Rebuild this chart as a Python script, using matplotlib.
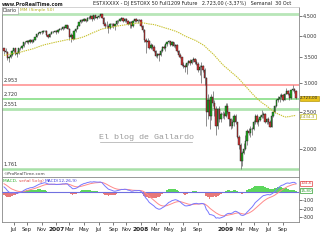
import numpy as np
import pandas as pd
import matplotlib
matplotlib.use('Agg')
import matplotlib.pyplot as plt
from matplotlib.ticker import FixedLocator, NullLocator, FixedFormatter
import matplotlib.transforms as mtransforms

# ---------------- data ----------------
# weekly closes before the visible window (Jun 2005 - May 2006), used only for indicator warm-up
prehistory_close = [3150, 3200, 3170, 3200, 3220, 3280, 3300, 3330, 3320, 3340, 3300, 3290, 3300, 3350, 3400,
                    3380, 3430, 3390, 3330, 3260, 3290, 3380, 3440, 3470, 3500, 3530, 3560, 3580, 3590, 3580,
                    3680, 3700, 3660, 3720, 3740, 3760, 3800, 3830, 3840, 3810, 3870, 3860, 3850, 3900, 3860,
                    3880, 3840, 3900, 3800, 3650]

first_open = 3700
close_2006 = [3650, 3620, 3480, 3500, 3560, 3650, 3700, 3580, 3600, 3700, 3720, 3750, 3850, 3840, 3880, 3840,
              3900, 3850, 3900, 3970, 4030, 4060, 4080, 4080, 4110, 4120, 4020, 3980, 4050, 4100, 4090, 4120]
high_2006 = [3720, 3700, 3640, 3540, 3600, 3670, 3720, 3710, 3640, 3710, 3740, 3770, 3860, 3870, 3900, 3900,
             3920, 3920, 3910, 3980, 4040, 4080, 4100, 4110, 4130, 4150, 4130, 4040, 4070, 4120, 4120, 4130]
low_2006 = [3580, 3590, 3450, 3400, 3480, 3540, 3630, 3560, 3520, 3580, 3660, 3690, 3740, 3810, 3820, 3810,
            3830, 3830, 3840, 3890, 3960, 4010, 4040, 4040, 4060, 4090, 4000, 3940, 3970, 4040, 4070, 4080]

close_2007 = [4080, 4150, 4180, 4160, 4230, 4200, 4260, 4180, 3960, 4020, 3920, 4120, 4170,
              4250, 4350, 4400, 4390, 4420, 4390, 4470, 4450, 4500, 4420, 4530, 4470, 4490,
              4520, 4560, 4470, 4290, 4250, 4250, 4200, 4300, 4290, 4250, 4290, 4380, 4380,
              4430, 4460, 4380, 4440, 4380, 4300, 4360, 4250, 4380, 4430, 4370, 4400, 4400]
high_2007 = [4140, 4160, 4200, 4200, 4240, 4250, 4280, 4270, 4200, 4060, 4050, 4130, 4190,
             4260, 4360, 4420, 4430, 4450, 4440, 4490, 4500, 4530, 4520, 4540, 4550, 4510,
             4540, 4575, 4570, 4490, 4340, 4380, 4280, 4320, 4330, 4330, 4300, 4400, 4400,
             4450, 4480, 4470, 4460, 4450, 4400, 4370, 4370, 4400, 4440, 4450, 4420, 4420]
low_2007 = [4050, 4070, 4130, 4130, 4150, 4180, 4190, 4160, 3900, 3850, 3900, 3910, 4100,
            4160, 4240, 4330, 4350, 4370, 4360, 4380, 4420, 4430, 4380, 4410, 4450, 4420,
            4470, 4500, 4450, 4270, 4200, 4200, 4060, 4180, 4220, 4200, 4150, 4270, 4330,
            4370, 4410, 4340, 4350, 4360, 4260, 4200, 4200, 4230, 4360, 4350, 4320, 4380]

close_2008 = [4250, 4150, 3900, 3850, 3870, 3700, 3780, 3740, 3650, 3540, 3570, 3550, 3650,
              3740, 3720, 3800, 3840, 3870, 3780, 3840, 3760, 3780, 3640, 3560, 3500, 3350,
              3330, 3300, 3380, 3420, 3390, 3450, 3470, 3400, 3370, 3250, 3300, 3330, 3250,
              3080, 2500, 2700, 2450, 2750, 2650, 2550, 2300, 2550, 2400, 2470, 2480, 2450]
high_2008 = [4420, 4270, 4180, 3950, 3950, 3900, 3820, 3800, 3780, 3670, 3600, 3600, 3680,
             3760, 3770, 3820, 3860, 3900, 3880, 3880, 3860, 3800, 3800, 3660, 3600, 3520,
             3400, 3370, 3400, 3450, 3460, 3470, 3500, 3480, 3460, 3400, 3340, 3400, 3350,
             3280, 3100, 2800, 2750, 2800, 2850, 2700, 2600, 2570, 2600, 2500, 2520, 2500]
low_2008 = [4230, 4100, 3850, 3600, 3780, 3680, 3680, 3680, 3630, 3500, 3480, 3430, 3540,
            3620, 3680, 3650, 3760, 3820, 3760, 3760, 3730, 3720, 3620, 3500, 3480, 3330,
            3280, 3200, 3170, 3350, 3340, 3370, 3400, 3360, 3340, 3200, 3150, 3000, 3200,
            2950, 2300, 2400, 2250, 2380, 2600, 2450, 2180, 2250, 2350, 2350, 2420, 2400]

close_2009 = [2600, 2500, 2400, 2300, 2350, 2450, 2350, 2150, 2050, 1850, 1950, 2000, 2100,
              2230, 2200, 2250, 2250, 2350, 2450, 2350, 2390, 2430, 2460, 2470, 2360, 2400,
              2360, 2290, 2450, 2500, 2600, 2700, 2720, 2750, 2780, 2700, 2800, 2850, 2800,
              2730, 2860, 2880, 2850, 2723]
high_2009 = [2640, 2640, 2510, 2420, 2400, 2480, 2470, 2360, 2180, 2070, 1970, 2070, 2170,
             2260, 2270, 2300, 2290, 2380, 2470, 2470, 2410, 2460, 2530, 2510, 2490, 2420,
             2430, 2380, 2470, 2530, 2620, 2720, 2760, 2790, 2820, 2800, 2820, 2900, 2870,
             2820, 2870, 2953, 2900, 2870]
low_2009 = [2430, 2470, 2300, 2250, 2270, 2300, 2330, 2130, 1990, 1765, 1800, 1940, 1980,
            2050, 2170, 2150, 2180, 2240, 2330, 2330, 2300, 2370, 2420, 2420, 2340, 2320,
            2320, 2280, 2280, 2430, 2490, 2580, 2660, 2660, 2730, 2680, 2690, 2790, 2780,
            2690, 2720, 2850, 2820, 2710]

start_date = '2006-05-26'
level_values = [4572, 2953, 2720, 2551, 1761]
level_labels = ['', '2.953', '2.720', '2.551', '1.761']
price_ticks = [2000, 2500, 3000, 3500, 4000, 4500]
price_tick_labels = ['2.000', '2.500', '3.000', '3.500', '4.000', '4.500']
macd_ticks = [-100, -200, -300]
macd_tick_labels = ['-100', '-200', '-300']
month_ticks = ['2006-07', '2006-09', '2006-11', '2007-01', '2007-03', '2007-05', '2007-07', '2007-09',
               '2007-11', '2008-01', '2008-03', '2008-05', '2008-07', '2008-09', '2009-01', '2009-03',
               '2009-05', '2009-07', '2009-09']
month_labels = ['Jul', 'Sep', 'Nov', '2007', 'Mar', 'May', 'Jul', 'Sep', 'Nov', '2008', 'Mar', 'May',
                'Jul', 'Sep', '2009', 'Mar', 'May', 'Jul', 'Sep']
last_price_text = '2.723,00'
last_price = 2723.0
sma_text = '2.434,3'
sma_last = 2434.3
signal_text = '104,6'
signal_last = 104.6
hist_text = '15,80'
hist_last = 15.8

# ---------------- computations ----------------
close = close_2006 + close_2007 + close_2008 + close_2009
high = high_2006 + high_2007 + high_2008 + high_2009
low = low_2006 + low_2007 + low_2008 + low_2009
opens = [first_open] + close[:-1]
n = len(close)
dates = pd.date_range(start_date, periods=n, freq='W-FRI')
x = np.arange(n)

full = pd.Series(prehistory_close + close, dtype=float)
npre = len(prehistory_close)
sma = full.rolling(50).mean().iloc[npre:].values
ema12 = full.ewm(span=12, adjust=False).mean()
ema26 = full.ewm(span=26, adjust=False).mean()
macd_full = ema12 - ema26
sig_full = macd_full.ewm(span=9, adjust=False).mean()
macd = macd_full.iloc[npre:].values
sig = sig_full.iloc[npre:].values
hist = macd - sig

tick_pos = [int(np.argmax(dates >= pd.Timestamp(m + '-01'))) for m in month_ticks]

# ---------------- figure ----------------
W, H = 320, 240
fig = plt.figure(figsize=(W / 100, H / 100), dpi=100)
fig.patch.set_facecolor('white')

def ax_rect(x0, y0, x1, y1):
    return [x0 / W, 1 - y1 / H, (x1 - x0) / W, (y1 - y0) / H]

ax = fig.add_axes(ax_rect(2, 7, 299, 177))
ax2 = fig.add_axes(ax_rect(2, 177, 299, 222), sharex=ax)

spacing = (296 - 4) / (n - 1)
xlo = -(4 - 2) / spacing
xhi = (n - 1) + (299 - 296) / spacing

# horizontal levels
lvl_colors = ['#b8e6b8', '#ff9c9c', '#90e090', '#b0e4b0', '#a8e0a8']
lvl_widths = [2.0, 1.3, 1.3, 2.0, 1.8]
bt = mtransforms.blended_transform_factory(ax.transAxes, ax.transData)
for v, lab, col, lw in zip(level_values, level_labels, lvl_colors, lvl_widths):
    ax.axhline(v, color=col, lw=lw, zorder=1)
    if lab:
        ax.text(0.004, v * 1.012, lab, transform=bt, fontsize=3.6, color='#333333',
                ha='left', va='bottom', zorder=5)

# candles
ax.vlines(x, low, high, color='#606060', lw=0.5, zorder=2)
o = np.array(opens, float)
c = np.array(close, float)
up = c >= o
body_bottom = np.minimum(o, c)
body_h = np.abs(c - o)
ax.bar(x[up], body_h[up], bottom=body_bottom[up], width=0.85, color='#1fae1f', edgecolor='#202020', lw=0.3, zorder=3)
ax.bar(x[~up], body_h[~up], bottom=body_bottom[~up], width=0.85, color='#d03434', edgecolor='#202020', lw=0.3, zorder=3)

# SMA 50
ax.plot(x, sma, color='#c8c230', lw=0.8, ls=(0, (1.2, 0.8)), zorder=4)

ax.set_yscale('log')
ax.set_ylim(1681, 4770)
ax.set_xlim(xlo, xhi)
ax.yaxis.set_major_locator(FixedLocator(price_ticks))
ax.yaxis.set_major_formatter(FixedFormatter(price_tick_labels))
ax.yaxis.set_minor_locator(NullLocator())
ax.yaxis.tick_right()
ax.tick_params(axis='y', which='major', labelsize=3.6, length=2, width=0.5, color='#444444', pad=1,
               labelcolor='#333333')
ax.tick_params(axis='x', which='both', bottom=False, labelbottom=False)
for s in ['left', 'right', 'top', 'bottom']:
    ax.spines[s].set_color('#888888')
    ax.spines[s].set_linewidth(0.6)
ax.spines['bottom'].set_visible(False)
ax.spines['top'].set_color('#cccccc')

# watermark
ax.text(0.485, 0.235, 'El blog de Gallardo', transform=ax.transAxes, fontsize=6.0,
        family='Liberation Mono', color='#9a9a9a', ha='center', va='center', zorder=6)
ax.plot([0.33, 0.64], [0.205, 0.205], transform=ax.transAxes, color='#a8a8a8', lw=0.5, zorder=6)

# labels inside main panel
ax.text(0.003, 0.993, 'Diario', transform=ax.transAxes, fontsize=3.4, color='#333333', ha='left', va='top',
        bbox=dict(boxstyle='square,pad=0.15', fc='white', ec='#999999', lw=0.4), zorder=7)
ax.text(0.062, 0.993, 'MM (Simple 50)', transform=ax.transAxes, fontsize=3.2, color='#b8b020',
        ha='left', va='top', zorder=7)
ax.text(0.003, 0.004, '©ProRealTime.com', transform=ax.transAxes, fontsize=3.2, color='#444444',
        ha='left', va='bottom', zorder=7)

# right-side value boxes
ax.text(1.004, last_price, last_price_text, transform=bt, fontsize=3.0, color='#222222', ha='left', va='center',
        bbox=dict(boxstyle='square,pad=0.12', fc='#e8c21c', ec='#b89a10', lw=0.5), zorder=8, clip_on=False)
ax.text(1.004, sma_last, sma_text, transform=bt, fontsize=3.0, color='#a09a20', ha='left', va='center',
        bbox=dict(boxstyle='square,pad=0.12', fc='white', ec='#c8c230', lw=0.5), zorder=8, clip_on=False)

# ---------------- MACD panel ----------------
ax2.bar(x[hist >= 0], hist[hist >= 0], width=1.0, color='#5cd65c', lw=0, zorder=2)
ax2.bar(x[hist < 0], hist[hist < 0], width=1.0, color='#e87878', lw=0, zorder=2)
ax2.axhline(0, color='#7070e0', lw=0.8, zorder=3)
ax2.plot(x, sig, color='#ff8a8a', lw=0.7, zorder=4)
ax2.plot(x, macd, color='#7777ff', lw=0.7, zorder=5)
ax2.set_ylim(-353, 176)
ax2.yaxis.set_major_locator(FixedLocator(macd_ticks))
ax2.yaxis.set_major_formatter(FixedFormatter(macd_tick_labels))
ax2.yaxis.tick_right()
ax2.tick_params(axis='y', labelsize=3.6, length=2, width=0.5, color='#444444', pad=1, labelcolor='#333333')
ax2.xaxis.set_major_locator(FixedLocator(tick_pos))
ax2.xaxis.set_major_formatter(FixedFormatter(month_labels))
ax2.tick_params(axis='x', labelsize=3.8, length=2, width=0.5, color='#444444', pad=1.5, labelcolor='#222222')
for lab in ax2.get_xticklabels():
    if lab.get_text().isdigit():
        lab.set_fontweight('bold')
        lab.set_fontsize(4.2)
for s in ['left', 'right', 'top', 'bottom']:
    ax2.spines[s].set_color('#888888')
    ax2.spines[s].set_linewidth(0.6)
ax2.set_xlim(xlo, xhi)

bt2 = mtransforms.blended_transform_factory(ax2.transAxes, ax2.transData)
ax2.text(1.004, signal_last, signal_text, transform=bt2, fontsize=3.0, color='#e04040', ha='left', va='center',
         bbox=dict(boxstyle='square,pad=0.12', fc='white', ec='#e04040', lw=0.5), zorder=8, clip_on=False)
ax2.text(1.004, hist_last, hist_text, transform=bt2, fontsize=3.0, color='#30a030', ha='left', va='center',
         bbox=dict(boxstyle='square,pad=0.12', fc='white', ec='#30a030', lw=0.5), zorder=8, clip_on=False)

# MACD legend: pieces chained one after another
t1 = ax2.text(0.004, 0.96, 'MACD, ', transform=ax2.transAxes, fontsize=3.2, color='#30b030', ha='left', va='top')
t2 = ax2.annotate('señal 5x(g) ', xy=(1, 0), xycoords=t1, fontsize=3.2, color='#e05050', ha='left', va='bottom')
t3 = ax2.annotate('MACD(12,26,9)', xy=(1, 0), xycoords=t2, fontsize=3.2, color='#4040e0', ha='left', va='bottom')

# ---------------- header ----------------
fig.text(2 / W, 1 - 4 / H, 'www.ProRealTime.com', fontsize=3.4, fontweight='bold', color='#222222',
         ha='left', va='center')
fig.text(93 / W, 1 - 4 / H, 'ESTXXXXX - DJ ESTOXX 50 Full1209 Future   2.723,00 (-3,37%)   Semanal  30 Oct',
         fontsize=3.5, color='#222222', ha='left', va='center')

fig.savefig('out.png', dpi=100, facecolor='white')
